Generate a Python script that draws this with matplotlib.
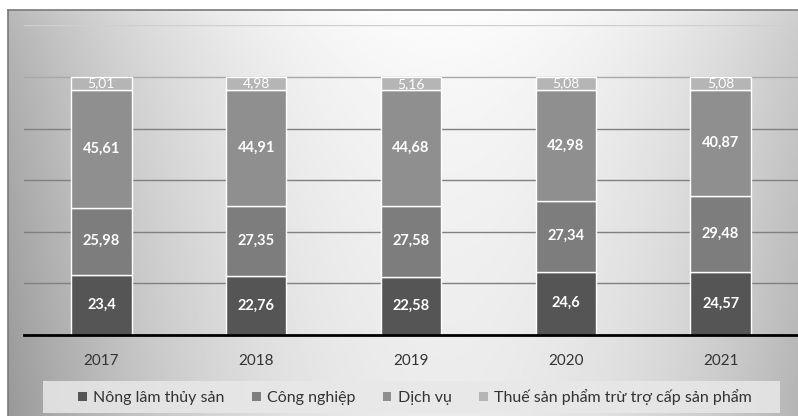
import numpy as np
import matplotlib
matplotlib.use("Agg")
import matplotlib.pyplot as plt
from matplotlib.patches import Rectangle, Patch

plt.rcParams['font.family'] = ['Lato', 'DejaVu Sans']

# GDP structure by sector (%), 2017-2021
years = ["2017", "2018", "2019", "2020", "2021"]
nong_lam = [23.4, 22.76, 22.58, 24.6, 24.57]
cong_nghiep = [25.98, 27.35, 27.58, 27.34, 29.48]
dich_vu = [45.61, 44.91, 44.68, 42.98, 40.87]
thue = [5.01, 4.98, 5.16, 5.08, 5.08]

series = [
    ("Nông lâm thủy sản", nong_lam, "#555555"),
    ("Công nghiệp", cong_nghiep, "#7d7d7d"),
    ("Dịch vụ", dich_vu, "#8f8f8f"),
    ("Thuế sản phẩm trừ trợ cấp sản phẩm", thue, "#b5b5b5"),
]

fig = plt.figure(figsize=(7.98, 4.16), dpi=100)

# gray background: bright near the top middle, darker towards the sides
bg = fig.add_axes([8 / 798, 0, 1 - 8 / 798, 406 / 416])
h, w = 200, 400
yy, xx = np.mgrid[0:h, 0:w]
dx = (xx / w - 0.55) / 0.55
dy = yy / h
val = np.clip(1 - 0.27 * dx ** 2 - 0.08 * np.sqrt(dy) - 0.05 * dy * dx ** 2, 0, 1)
bg.imshow(val, cmap="gray", vmin=0, vmax=1, aspect="auto", extent=[0, 1, 0, 1],
          origin="upper")
bg.set_xlim(0, 1)
bg.set_ylim(0, 1)
for side in ["right", "bottom"]:
    bg.spines[side].set_visible(False)
for side in ["left", "top"]:
    bg.spines[side].set_color("#7a7a7a")
    bg.spines[side].set_linewidth(1.2)
bg.set_xticks([])
bg.set_yticks([])

# legend box
fig.patches.append(Rectangle((43 / 798, 3 / 416), 737 / 798, 32 / 416,
                             transform=fig.transFigure, facecolor="#e8e8e8",
                             edgecolor="none", alpha=0.85, zorder=1))

ax = fig.add_axes([24 / 798, 81 / 416, 774 / 798, 309.6 / 416])
ax.patch.set_alpha(0)
x = np.arange(len(years))
bottom = np.zeros(len(years))
for name, vals, color in series:
    ax.bar(x, vals, 0.39, bottom=bottom, color=color, edgecolor="white",
           linewidth=1, label=name, zorder=3)
    for xi, b, v in zip(x, bottom, vals):
        lbl = f"{v:g}".replace(".", ",")
        small = v < 10
        ax.text(xi, b + v / 2, lbl, ha="center", va="center", color="white",
                fontsize=10 if small else 10.5, fontweight="normal" if small else "bold",
                zorder=4)
    bottom += np.array(vals)

ax.set_xlim(-0.5, 4.5)
ax.set_ylim(0, 120)
# gridlines, lighter towards the top
for level in np.arange(20, 121, 20):
    shade = "#808080" if level <= 80 else ("#a8a8a8" if level == 100 else "#cfcfcf")
    ax.axhline(level, color=shade, linewidth=1, zorder=1)
ax.set_yticks([])
ax.tick_params(axis="x", bottom=False, labelsize=11, labelcolor="#333333", pad=10)
ax.set_xticks(x)
ax.set_xticklabels(years)
for side in ["left", "right", "top"]:
    ax.spines[side].set_visible(False)
ax.spines["bottom"].set_color("black")
ax.spines["bottom"].set_linewidth(2)
ax.spines["bottom"].set_zorder(5)

handles = [Patch(facecolor=c, edgecolor="none") for _, _, c in series]
fig.legend(handles, [s[0] for s in series], loc="center", ncol=4,
           bbox_to_anchor=(415 / 798, 19 / 416), frameon=False, fontsize=11.5,
           handlelength=0.55, handleheight=0.55, handletextpad=0.4,
           columnspacing=1.7, labelcolor="#333333")

fig.savefig("out.png", dpi=100)
